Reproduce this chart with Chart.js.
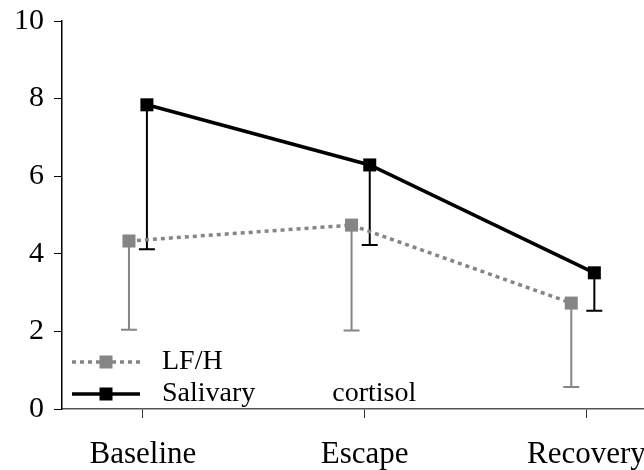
<!DOCTYPE html>
<html lang="en">
<head>
<meta charset="UTF-8">
<title>LF/HF and salivary cortisol</title>
<script src="https://cdn.jsdelivr.net/npm/chart.js"></script>
<style>
  body { margin: 0; background: #fff; }
</style>
</head>
<body>
<canvas id="chart" width="644" height="470"></canvas>
<script>
const phases = ['Baseline', 'Escape', 'Recovery'];
const phasePos = [1, 2, 3];

// the points sit a little off the tick in the original figure
const lfhfX = [0.937, 1.941, 2.932];
const lfhfMean = [4.33, 4.74, 2.73];
const lfhfLow = [2.04, 2.02, 0.57];

const cortX = [1.018, 2.023, 3.036];
const cortMean = [7.84, 6.29, 3.51];
const cortLow = [4.12, 4.23, 2.53];

const FONT = 'Liberation Serif';
const GREY = '#858585';

// only the lower half of each error bar is shown
const errorBars = {
    id: 'errorBars',
    beforeDatasetsDraw(chart) {
        const ctx = chart.ctx;
        const xs = chart.scales.x, ys = chart.scales.y;
        chart.data.datasets.forEach(ds => {
            ctx.save();
            ctx.strokeStyle = ds.borderColor;
            ctx.lineWidth = 2;
            ds.data.forEach((p, i) => {
                const x = xs.getPixelForValue(p.x);
                const y0 = ys.getPixelForValue(p.y);
                const y1 = ys.getPixelForValue(ds.errLow[i]);
                ctx.beginPath();
                ctx.moveTo(x, y0);
                ctx.lineTo(x, y1);
                ctx.moveTo(x - 8, y1);
                ctx.lineTo(x + 8, y1);
                ctx.stroke();
            });
            ctx.restore();
        });
    }
};

// legend drawn inside the plot, bottom left
const insideLegend = {
    id: 'insideLegend',
    afterDraw(chart) {
        const ctx = chart.ctx;
        const area = chart.chartArea;
        const rows = [area.bottom - 47, area.bottom - 15];
        chart.data.datasets.forEach((ds, i) => {
            const y = rows[i];
            const x0 = area.left + 10;
            ctx.save();
            ctx.strokeStyle = ds.borderColor;
            ctx.lineWidth = ds.borderWidth;
            ctx.setLineDash(ds.borderDash || []);
            ctx.beginPath();
            ctx.moveTo(x0, y);
            ctx.lineTo(x0 + 68, y);
            ctx.stroke();
            ctx.setLineDash([]);
            ctx.fillStyle = ds.pointBackgroundColor;
            ctx.fillRect(x0 + 34 - 6.5, y - 6.5, 13, 13);
            ctx.fillStyle = '#000';
            ctx.font = '28px "' + FONT + '"';
            ctx.textBaseline = 'middle';
            ctx.fillText(ds.label, x0 + 90, y);
            ctx.restore();
        });
    }
};

const ctx = document.getElementById('chart').getContext('2d');
new Chart(ctx, {
    type: 'line',
    data: {
        datasets: [{
            label: 'LF/H',
            data: lfhfX.map((x, i) => ({ x: x, y: lfhfMean[i] })),
            errLow: lfhfLow,
            borderColor: GREY,
            borderWidth: 3.5,
            borderDash: [4, 4],
            pointStyle: 'rect',
            pointRadius: 9.2,
            pointBackgroundColor: GREY,
            pointBorderWidth: 0,
            fill: false
        }, {
            label: 'Salivary           cortisol',
            data: cortX.map((x, i) => ({ x: x, y: cortMean[i] })),
            errLow: cortLow,
            borderColor: '#000',
            borderWidth: 3.5,
            pointStyle: 'rect',
            pointRadius: 9.2,
            pointBackgroundColor: '#000',
            pointBorderWidth: 0,
            fill: false
        }]
    },
    options: {
        responsive: false,
        animation: false,
        devicePixelRatio: 1,
        layout: { autoPadding: false, padding: { top: 21, right: 0, left: 0, bottom: 0 } },
        plugins: {
            legend: { display: false },
            tooltip: { enabled: false }
        },
        scales: {
            x: {
                type: 'linear',
                min: 0.635,
                max: 3.26,
                afterBuildTicks: scale => {
                    scale.ticks = phasePos.map(v => ({ value: v }));
                },
                afterFit: scale => {
                    scale.height = 61;
                    scale.paddingLeft = 0;
                    scale.paddingRight = 0;
                },
                ticks: {
                    callback: v => phases[phasePos.indexOf(v)],
                    color: '#000',
                    font: { family: FONT, size: 31 },
                    padding: 18,
                    maxRotation: 0
                },
                grid: { drawOnChartArea: false, tickLength: 9, tickColor: '#333', tickWidth: 1 },
                border: { color: '#555', width: 1.5 }
            },
            y: {
                min: 0,
                max: 10,
                ticks: {
                    stepSize: 2,
                    color: '#000',
                    font: { family: FONT, size: 30 },
                    padding: 10
                },
                afterFit: scale => {
                    scale.width = 62;
                    scale.paddingTop = 0;
                    scale.paddingBottom = 0;
                },
                grid: { drawOnChartArea: false, tickLength: 8, tickColor: '#000', tickWidth: 1 },
                border: { color: '#000', width: 1.5 }
            }
        }
    },
    plugins: [errorBars, insideLegend]
});
</script>
</body>
</html>
